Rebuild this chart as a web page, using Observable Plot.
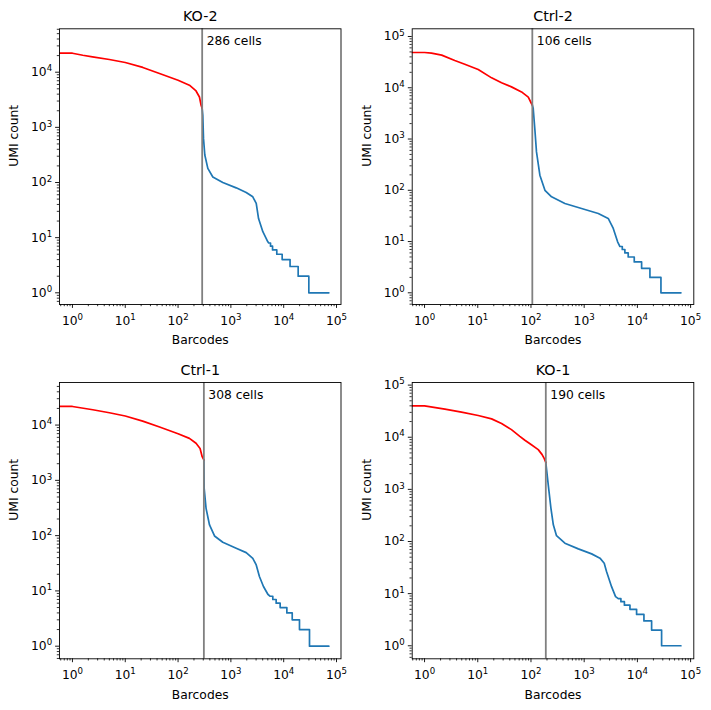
<!DOCTYPE html>
<html><head><meta charset="utf-8">
<script src="https://cdn.jsdelivr.net/npm/d3@7"></script>
<script src="https://cdn.jsdelivr.net/npm/@observablehq/plot@0.6"></script>
<style>
body{margin:0;background:#fff}
#root{position:relative;width:711px;height:710px;background:#fff}
#root svg{position:absolute}
</style>
</head><body><div id="root"></div>
<script>
// ---- data ----
const sampleNames = ["KO-2", "Ctrl-2", "Ctrl-1", "KO-1"];
const cellCounts = [286, 106, 308, 190];

const ko2Rank = [0.5,1,1.57,2.4,5,10,21.5,44.5,100,164,219,254,273,286,294,303,321,366,455,703,1260,1950,2600,3020,3340,4030,5010,5200,5630,5630,6150,6150,7400,7400,9360,9360,13200,13200,18800,18800,29900,29900,71600];
const ko2Umi  = [22100,22100,20300,19000,17000,15000,12200,9460,7160,5810,4570,3550,2510,2190,1660,631,316,180,126,100,80,66,55,41.7,22.2,12.8,8.4,8,8,7,7,6,6,5,5,4,4,3,3,2,2,1,1];

const ctrl2Rank = [0.5,1,1.35,2.1,3.7,5.7,10.2,18.2,28,43,66.5,89,102,106,110,118,127,147,183,244,434,893,1840,2830,3520,4250,4700,5200,5200,5820,5820,6720,6720,8730,8730,12000,12000,17200,17200,27700,27700,65800];
const ctrl2Umi  = [48700,48700,47300,43300,33900,28800,22700,15600,12500,10400,8300,6560,4930,4600,4000,1600,560,197,100,74.6,55.3,44.2,35.2,28.2,18,9.9,8,8,7,7,6,6,5,5,4,4,3,3,2,2,1,1];

const ctrl1Rank = [0.5,1,2.43,5,10,21.4,44.7,100,164,219,261,286,308,312,339,394,490,703,1260,1950,2600,3020,3470,4140,5010,5550,6220,6220,7200,7200,8570,8570,11480,11480,14500,14500,19900,19900,30800,30800,71600];
const ctrl1Umi  = [21700,21700,18900,16700,14600,11800,9200,6970,5740,4680,3780,2680,2340,716,312,156,98.6,75.9,59,49.3,38.9,29.5,18.2,12,8.7,8,8,7,7,6,6,5,5,4,4,3,3,2,2,1,1];

const ko1Rank = [0.5,1,2.41,4.95,10.2,18.2,28,43,61.7,76.9,102,137,162,178,190,211,237,263,302,434,776,1380,1980,2380,2630,3270,3890,4370,4900,4900,5700,5700,7250,7250,9660,9660,13270,13270,18500,18500,28500,28500,65800];
const ko1Umi  = [40100,40100,34500,30300,26100,22500,18300,14000,10400,8750,7160,5790,4640,3890,3300,1230,437,209,129,92.9,72.3,57.9,47.9,38.3,26.5,13.6,8.75,8,8,7,7,6,6,5,5,4,4,3,3,2,2,1,1];

const majorTicks  = [1, 10, 100, 1000, 10000, 100000];
const majorExponents = ["0", "1", "2", "3", "4", "5"];
const minorMultipliers = [2,3,4,5,6,7,8,9];
const belowOneMinor = [0.6, 0.7, 0.8, 0.9];

const xLabel = "Barcodes";
const yLabel = "UMI count";

// ---- layout ----
const panels = [
  {rank: ko2Rank,   umi: ko2Umi,   left: 0,   top: 0,   width: 355, m: [28.3, 14.5, 51, 59],  xd: [-0.245, 5.085], yd: [-0.212, 4.787]},
  {rank: ctrl2Rank, umi: ctrl2Umi, left: 355, top: 0,   width: 356, m: [28.3, 17.7, 51, 56.7], xd: [-0.232, 5.06], yd: [-0.228, 5.15]},
  {rank: ctrl1Rank, umi: ctrl1Umi, left: 0,   top: 355, width: 355, m: [27, 14.5, 51.7, 59],  xd: [-0.245, 5.085], yd: [-0.228, 4.77]},
  {rank: ko1Rank,   umi: ko1Umi,   left: 355, top: 355, width: 356, m: [27, 17.7, 51.7, 56.7], xd: [-0.232, 5.06], yd: [-0.25, 5.05]}
];

const allMinor = belowOneMinor.concat(majorTicks.flatMap(t => minorMultipliers.map(k => k * t)));
const fmt = d => "10^" + majorExponents[majorTicks.indexOf(d)];
const font = "DejaVu Sans";

const root = document.getElementById("root");

panels.forEach((p, i) => {
  const cells = cellCounts[i];
  const data = p.rank.map((r, j) => ({rank: r, umi: p.umi[j]}));
  const red = data.filter(d => d.rank <= cells);
  const blue = data.filter(d => d.rank >= cells);
  const xDom = p.xd.map(v => Math.pow(10, v));
  const yDom = p.yd.map(v => Math.pow(10, v));
  const inX = t => t >= xDom[0] && t <= xDom[1];
  const inY = t => t >= yDom[0] && t <= yDom[1];

  const svg = Plot.plot({
    width: p.width,
    height: 355,
    marginTop: p.m[0], marginRight: p.m[1], marginBottom: p.m[2], marginLeft: p.m[3],
    style: {fontFamily: font, fontSize: "12.3px", color: "black", background: "white", overflow: "visible"},
    x: {type: "log", domain: xDom, label: null},
    y: {type: "log", domain: yDom, label: null},
    marks: [
      Plot.line(blue, {x: "rank", y: "umi", stroke: "#1f77b4", strokeWidth: 1.7, clip: true}),
      Plot.line(red,  {x: "rank", y: "umi", stroke: "#ff0000", strokeWidth: 1.7, clip: true}),
      Plot.ruleX([cells], {stroke: "#808080", strokeWidth: 1.8}),
      Plot.text([`${cells} cells`], {x: [cells], frameAnchor: "top", lineAnchor: "middle", dy: 12.7, dx: 4.5, textAnchor: "start", fontSize: 12.3, fill: "black"}),
      Plot.axisX(allMinor.filter(inX), {tickSize: 2.2, tickFormat: () => "", strokeWidth: 0.8, label: null}),
      Plot.axisY(allMinor.filter(inY), {tickSize: 2.2, tickFormat: () => "", strokeWidth: 0.8, label: null}),
      Plot.axisX(majorTicks.filter(inX), {tickSize: 3.9, tickPadding: 7.5, tickFormat: fmt, strokeWidth: 0.9, fontSize: 12.3, label: null}),
      Plot.axisY(majorTicks.filter(inY), {tickSize: 3.9, tickPadding: 3.5, tickFormat: fmt, strokeWidth: 0.9, fontSize: 12.3, label: null}),
      Plot.frame({stroke: "black", strokeWidth: 0.9}),
      Plot.text([sampleNames[i]], {frameAnchor: "top", lineAnchor: "middle", dy: -12.5, fontSize: 14.3, fill: "black"}),
      Plot.text([xLabel], {frameAnchor: "bottom", lineAnchor: "middle", dy: 36, fontSize: 12.3, fill: "black"}),
      Plot.text([yLabel], {frameAnchor: "left", lineAnchor: "middle", dx: -45, rotate: -90, fontSize: 12.3, fill: "black"})
    ]
  });
  // render "10^k" tick labels as 10 with a raised exponent
  svg.querySelectorAll("text").forEach(t => {
    const s = t.textContent;
    if (/^10\^\d$/.test(s)) {
      const exp = s.slice(3);
      t.textContent = "10";
      const sup = document.createElementNS("http://www.w3.org/2000/svg", "tspan");
      sup.setAttribute("dy", "-4.7");
      sup.setAttribute("font-size", "8.6");
      sup.textContent = exp;
      t.appendChild(sup);
    }
  });
  svg.style.left = p.left + "px";
  svg.style.top = p.top + "px";
  root.appendChild(svg);
});
</script>
</body></html>
